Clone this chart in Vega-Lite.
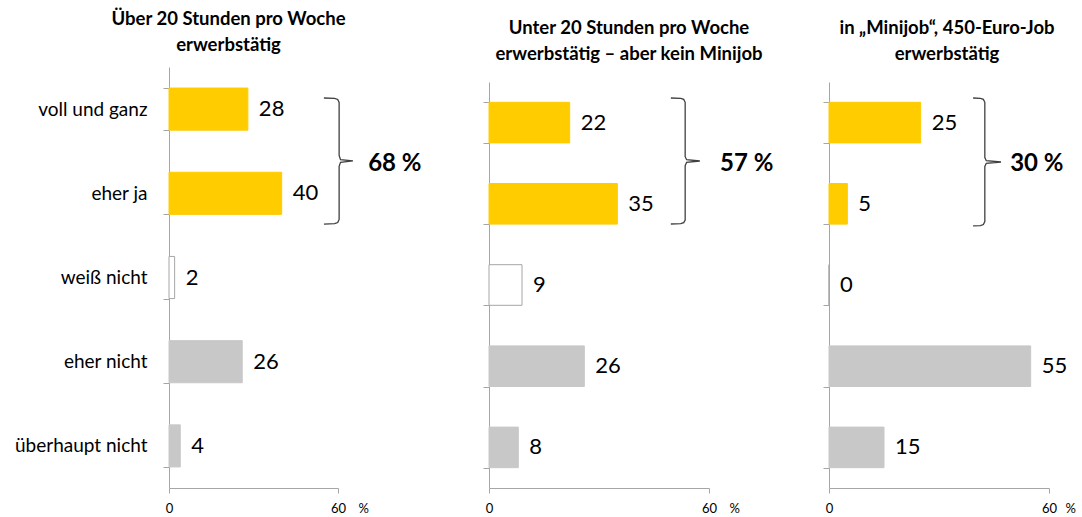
{
  "$schema": "https://vega.github.io/schema/vega-lite/v6.json",
  "background": "white",
  "padding": {"left": 14, "top": 9, "right": 5, "bottom": 5},
  "bounds": "flush",
  "spacing": 151,
  "config": {
    "view": {"stroke": null},
    "font": "Lato",
    "title": {"font": "Lato", "fontSize": 18.5, "fontWeight": "bold", "color": "#000000", "lineHeight": 26, "offset": 4, "anchor": "middle", "frame": "group"},
    "axis": {"domainColor": "#A6A6A6", "tickColor": "#A6A6A6", "grid": false, "labelFont": "Lato", "titleFont": "Lato", "labelColor": "#000000", "titleColor": "#000000", "domainWidth": 1, "tickWidth": 1}
  },
  "datasets": {
    "bars": [
      {"panel": 1, "answer": "voll und ganz", "value": 28, "group": "ja"},
      {"panel": 1, "answer": "eher ja", "value": 40, "group": "ja"},
      {"panel": 1, "answer": "weiß nicht", "value": 2, "group": "weiß nicht"},
      {"panel": 1, "answer": "eher nicht", "value": 26, "group": "nein"},
      {"panel": 1, "answer": "überhaupt nicht", "value": 4, "group": "nein"},
      {"panel": 2, "answer": "voll und ganz", "value": 22, "group": "ja"},
      {"panel": 2, "answer": "eher ja", "value": 35, "group": "ja"},
      {"panel": 2, "answer": "weiß nicht", "value": 9, "group": "weiß nicht"},
      {"panel": 2, "answer": "eher nicht", "value": 26, "group": "nein"},
      {"panel": 2, "answer": "überhaupt nicht", "value": 8, "group": "nein"},
      {"panel": 3, "answer": "voll und ganz", "value": 25, "group": "ja"},
      {"panel": 3, "answer": "eher ja", "value": 5, "group": "ja"},
      {"panel": 3, "answer": "weiß nicht", "value": 0, "group": "weiß nicht"},
      {"panel": 3, "answer": "eher nicht", "value": 55, "group": "nein"},
      {"panel": 3, "answer": "überhaupt nicht", "value": 15, "group": "nein"}
    ],
    "brace": [
      {"panel": 1, "order": 1, "bx": 55.0, "by": 0.368},
      {"panel": 1, "order": 2, "bx": 58.8, "by": 0.372},
      {"panel": 1, "order": 3, "bx": 59.9, "by": 0.385},
      {"panel": 1, "order": 4, "bx": 60.4, "by": 0.42},
      {"panel": 1, "order": 5, "bx": 60.4, "by": 1.05},
      {"panel": 1, "order": 6, "bx": 60.9, "by": 1.10},
      {"panel": 1, "order": 7, "bx": 65.3, "by": 1.116},
      {"panel": 1, "order": 8, "bx": 60.9, "by": 1.132},
      {"panel": 1, "order": 9, "bx": 60.4, "by": 1.18},
      {"panel": 1, "order": 10, "bx": 60.4, "by": 1.81},
      {"panel": 1, "order": 11, "bx": 59.9, "by": 1.848},
      {"panel": 1, "order": 12, "bx": 58.8, "by": 1.861},
      {"panel": 1, "order": 13, "bx": 55.0, "by": 1.865},
      {"panel": 2, "order": 1, "bx": 49.6, "by": 0.197},
      {"panel": 2, "order": 2, "bx": 52.3, "by": 0.201},
      {"panel": 2, "order": 3, "bx": 53.1, "by": 0.214},
      {"panel": 2, "order": 4, "bx": 53.5, "by": 0.25},
      {"panel": 2, "order": 5, "bx": 53.5, "by": 0.92},
      {"panel": 2, "order": 6, "bx": 53.9, "by": 0.957},
      {"panel": 2, "order": 7, "bx": 57.5, "by": 0.973},
      {"panel": 2, "order": 8, "bx": 53.9, "by": 0.989},
      {"panel": 2, "order": 9, "bx": 53.5, "by": 1.03},
      {"panel": 2, "order": 10, "bx": 53.5, "by": 1.70},
      {"panel": 2, "order": 11, "bx": 53.1, "by": 1.732},
      {"panel": 2, "order": 12, "bx": 52.3, "by": 1.745},
      {"panel": 2, "order": 13, "bx": 49.6, "by": 1.749},
      {"panel": 3, "order": 1, "bx": 39.3, "by": 0.197},
      {"panel": 3, "order": 2, "bx": 41.3, "by": 0.201},
      {"panel": 3, "order": 3, "bx": 42.1, "by": 0.214},
      {"panel": 3, "order": 4, "bx": 42.5, "by": 0.25},
      {"panel": 3, "order": 5, "bx": 42.5, "by": 0.93},
      {"panel": 3, "order": 6, "bx": 42.9, "by": 0.969},
      {"panel": 3, "order": 7, "bx": 46.9, "by": 0.985},
      {"panel": 3, "order": 8, "bx": 42.9, "by": 1.001},
      {"panel": 3, "order": 9, "bx": 42.5, "by": 1.04},
      {"panel": 3, "order": 10, "bx": 42.5, "by": 1.72},
      {"panel": 3, "order": 11, "bx": 42.1, "by": 1.756},
      {"panel": 3, "order": 12, "bx": 41.3, "by": 1.769},
      {"panel": 3, "order": 13, "bx": 39.3, "by": 1.773}
    ],
    "sums": [
      {"panel": 1, "label": "68 %", "bx": 70.7, "by": 1.15},
      {"panel": 2, "label": "57 %", "bx": 63.0, "by": 1.01},
      {"panel": 3, "label": "30 %", "bx": 49.4, "by": 1.01}
    ]
  },
  "hconcat": [
    {
      "width": 169,
      "height": 421,
      "title": {"text": ["Über 20 Stunden pro Woche", "erwerbstätig"], "dx": -25},
      "layer": [
        {
          "data": {"name": "bars"},
          "transform": [{"filter": "datum.panel == 1"}],
          "encoding": {
            "y": {"field": "answer", "type": "nominal", "title": null,
              "scale": {"domain": ["voll und ganz", "eher ja", "weiß nicht", "eher nicht", "überhaupt nicht"], "paddingInner": 0.5, "paddingOuter": 0.25},
              "axis": {"labelFontSize": 19, "tickSize": 6, "labelPadding": 16, "tickBand": "extent", "domain": true, "ticks": true}},
            "x": {"field": "value", "type": "quantitative", "scale": {"domain": [0, 60], "nice": false, "zero": true},
              "axis": {"values": [0, 60], "labelFontSize": 13, "tickSize": 5, "labelPadding": 9, "labelFlush": false, "title": "%", "titleX": 189, "titleY": 14, "titleAlign": "left", "titleBaseline": "top", "titleFontWeight": "normal", "titleFontSize": 13}}
          },
          "layer": [
            {"mark": {"type": "bar", "strokeWidth": 1},
              "encoding": {
                "color": {"field": "group", "type": "nominal", "legend": null, "scale": {"domain": ["ja", "weiß nicht", "nein"], "range": ["#FFCC00", "#FFFFFF", "#C8C8C8"]}},
                "stroke": {"field": "group", "type": "nominal", "legend": null, "scale": {"domain": ["ja", "weiß nicht", "nein"], "range": ["#FFCC00", "#A6A6A6", "#C8C8C8"]}}
              }},
            {"mark": {"type": "text", "align": "left", "baseline": "middle", "dx": 11, "fontSize": 22, "color": "#000000"},
              "encoding": {"text": {"field": "value", "type": "quantitative"}}}
          ]
        },
        {
          "layer": [
            {"data": {"name": "brace"},
              "transform": [{"filter": "datum.panel == 1"}],
              "mark": {"type": "line", "stroke": "#404040", "strokeWidth": 1.3, "clip": false},
              "encoding": {
                "x": {"field": "bx", "type": "quantitative", "axis": null},
                "y": {"field": "by", "type": "quantitative", "axis": null, "scale": {"domain": [0, 5], "range": [0, 421], "nice": false, "zero": false}},
                "order": {"field": "order", "type": "quantitative"}
              }},
            {"data": {"name": "sums"},
              "transform": [{"filter": "datum.panel == 1"}],
              "mark": {"type": "text", "align": "left", "baseline": "middle", "fontSize": 24, "fontWeight": "bold", "color": "#000000"},
              "encoding": {
                "x": {"field": "bx", "type": "quantitative", "axis": null},
                "y": {"field": "by", "type": "quantitative", "axis": null, "scale": {"domain": [0, 5], "range": [0, 421], "nice": false, "zero": false}},
                "text": {"field": "label"}
              }}
          ]
        }
      ],
      "resolve": {"scale": {"y": "independent"}, "axis": {"y": "independent", "x": "independent"}}
    },
    {
      "bounds": "flush",
      "spacing": 120,
      "hconcat": [
        {
          "width": 220,
          "height": 421,
          "title": {"text": ["Unter 20 Stunden pro Woche", "erwerbstätig – aber kein Minijob"], "dx": 30},
          "layer": [
            {
              "data": {"name": "bars"},
              "transform": [{"filter": "datum.panel == 2"}],
              "encoding": {
                "y": {"field": "answer", "type": "nominal", "title": null,
                  "scale": {"domain": ["voll und ganz", "eher ja", "weiß nicht", "eher nicht", "überhaupt nicht"], "range": [15, 421], "paddingInner": 0.5, "paddingOuter": 0.25},
                  "axis": {"labels": false, "tickSize": 6, "tickBand": "extent", "domain": true, "ticks": true}},
                "x": {"field": "value", "type": "quantitative", "scale": {"domain": [0, 60], "nice": false, "zero": true},
                  "axis": {"values": [0, 60], "labelFontSize": 13, "tickSize": 5, "labelPadding": 9, "labelFlush": false, "title": "%", "titleX": 240, "titleY": 14, "titleAlign": "left", "titleBaseline": "top", "titleFontWeight": "normal", "titleFontSize": 13}}
              },
              "layer": [
                {"mark": {"type": "bar", "strokeWidth": 1},
                  "encoding": {
                    "color": {"field": "group", "type": "nominal", "legend": null, "scale": {"domain": ["ja", "weiß nicht", "nein"], "range": ["#FFCC00", "#FFFFFF", "#C8C8C8"]}},
                    "stroke": {"field": "group", "type": "nominal", "legend": null, "scale": {"domain": ["ja", "weiß nicht", "nein"], "range": ["#FFCC00", "#A6A6A6", "#C8C8C8"]}}
                  }},
                {"mark": {"type": "text", "align": "left", "baseline": "middle", "dx": 11, "fontSize": 22, "color": "#000000"},
                  "encoding": {"text": {"field": "value", "type": "quantitative"}}}
              ]
            },
            {
              "layer": [
                {"data": {"name": "brace"},
                  "transform": [{"filter": "datum.panel == 2"}],
                  "mark": {"type": "line", "stroke": "#404040", "strokeWidth": 1.3, "clip": false},
                  "encoding": {
                    "x": {"field": "bx", "type": "quantitative", "axis": null},
                    "y": {"field": "by", "type": "quantitative", "axis": null, "scale": {"domain": [0, 5], "range": [15, 421], "nice": false, "zero": false}},
                    "order": {"field": "order", "type": "quantitative"}
                  }},
                {"data": {"name": "sums"},
                  "transform": [{"filter": "datum.panel == 2"}],
                  "mark": {"type": "text", "align": "left", "baseline": "middle", "fontSize": 24, "fontWeight": "bold", "color": "#000000"},
                  "encoding": {
                    "x": {"field": "bx", "type": "quantitative", "axis": null},
                    "y": {"field": "by", "type": "quantitative", "axis": null, "scale": {"domain": [0, 5], "range": [15, 421], "nice": false, "zero": false}},
                    "text": {"field": "label"}
                  }}
              ]
            }
          ],
          "resolve": {"scale": {"y": "independent"}, "axis": {"y": "independent", "x": "independent"}}
        },
        {
          "width": 220,
          "height": 421,
          "title": {"text": ["in „Minijob“, 450-Euro-Job", "erwerbstätig"], "dx": 8},
          "layer": [
            {
              "data": {"name": "bars"},
              "transform": [{"filter": "datum.panel == 3"}],
              "encoding": {
                "y": {"field": "answer", "type": "nominal", "title": null,
                  "scale": {"domain": ["voll und ganz", "eher ja", "weiß nicht", "eher nicht", "überhaupt nicht"], "range": [15, 421], "paddingInner": 0.5, "paddingOuter": 0.25},
                  "axis": {"labels": false, "tickSize": 6, "tickBand": "extent", "domain": true, "ticks": true}},
                "x": {"field": "value", "type": "quantitative", "scale": {"domain": [0, 60], "nice": false, "zero": true},
                  "axis": {"values": [0, 60], "labelFontSize": 13, "tickSize": 5, "labelPadding": 9, "labelFlush": false, "title": "%", "titleX": 236, "titleY": 14, "titleAlign": "left", "titleBaseline": "top", "titleFontWeight": "normal", "titleFontSize": 13}}
              },
              "layer": [
                {"mark": {"type": "bar", "strokeWidth": 1},
                  "encoding": {
                    "color": {"field": "group", "type": "nominal", "legend": null, "scale": {"domain": ["ja", "weiß nicht", "nein"], "range": ["#FFCC00", "#FFFFFF", "#C8C8C8"]}},
                    "stroke": {"field": "group", "type": "nominal", "legend": null, "scale": {"domain": ["ja", "weiß nicht", "nein"], "range": ["#FFCC00", "#A6A6A6", "#C8C8C8"]}}
                  }},
                {"mark": {"type": "text", "align": "left", "baseline": "middle", "dx": 11, "fontSize": 22, "color": "#000000"},
                  "encoding": {"text": {"field": "value", "type": "quantitative"}}}
              ]
            },
            {
              "layer": [
                {"data": {"name": "brace"},
                  "transform": [{"filter": "datum.panel == 3"}],
                  "mark": {"type": "line", "stroke": "#404040", "strokeWidth": 1.3, "clip": false},
                  "encoding": {
                    "x": {"field": "bx", "type": "quantitative", "axis": null},
                    "y": {"field": "by", "type": "quantitative", "axis": null, "scale": {"domain": [0, 5], "range": [15, 421], "nice": false, "zero": false}},
                    "order": {"field": "order", "type": "quantitative"}
                  }},
                {"data": {"name": "sums"},
                  "transform": [{"filter": "datum.panel == 3"}],
                  "mark": {"type": "text", "align": "left", "baseline": "middle", "fontSize": 24, "fontWeight": "bold", "color": "#000000"},
                  "encoding": {
                    "x": {"field": "bx", "type": "quantitative", "axis": null},
                    "y": {"field": "by", "type": "quantitative", "axis": null, "scale": {"domain": [0, 5], "range": [15, 421], "nice": false, "zero": false}},
                    "text": {"field": "label"}
                  }}
              ]
            }
          ],
          "resolve": {"scale": {"y": "independent"}, "axis": {"y": "independent", "x": "independent"}}
        }
      ]
    }
  ]
}
